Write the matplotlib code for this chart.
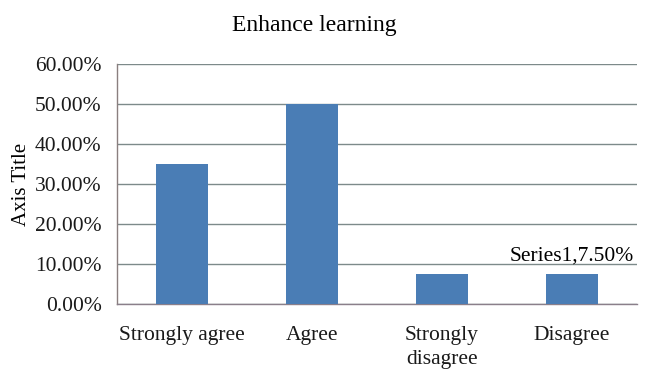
import matplotlib
matplotlib.use("Agg")
import matplotlib.pyplot as plt
from matplotlib.ticker import FuncFormatter

categories = ["Strongly agree", "Agree", "Strongly\ndisagree", "Disagree"]
values = [0.35, 0.50, 0.075, 0.075]
yticks = [0.0, 0.1, 0.2, 0.3, 0.4, 0.5, 0.6]

plt.rcParams["font.family"] = ["Liberation Serif", "DejaVu Serif"]

fig = plt.figure(figsize=(6.5, 3.7), dpi=100)
ax = fig.add_axes([117 / 650, 1 - 304 / 370, 520 / 650, 240 / 370])

x = range(len(categories))
ax.bar(x, values, width=0.4, color="#4a7db5", zorder=3)
ax.set_xlim(-0.5, len(categories) - 0.5)
ax.set_ylim(0, 0.6)
ax.set_yticks(yticks)
ax.yaxis.set_major_formatter(FuncFormatter(lambda v, p: f"{v * 100:.2f}%"))
ax.set_xticks(list(x))
ax.set_xticklabels(categories, fontsize=15.5, linespacing=1.35)
ax.tick_params(axis="both", length=0, labelsize=15.5, colors="#1a1a1a")
ax.tick_params(axis="y", pad=11)
ax.tick_params(axis="x", pad=16)

ax.grid(axis="y", color="#7d8a8a", linewidth=1.0, zorder=0)
for side in ("top", "right"):
    ax.spines[side].set_visible(False)
ax.spines["left"].set_color("#8a7f7f")
ax.spines["bottom"].set_color("#8a7f8a")
ax.spines["left"].set_linewidth(1.0)
ax.spines["bottom"].set_linewidth(1.0)

ax.set_ylabel("Axis Title", fontsize=15, labelpad=3)
fig.text(314 / 650, 1 - 25 / 370, "Enhance learning", fontsize=17,
         ha="center", va="center")

ax.annotate(f"Series1,{values[3] * 100:.2f}%", xy=(3, values[3]),
            xytext=(0, 6), textcoords="offset points",
            ha="center", va="bottom", fontsize=15.5)

fig.savefig("out.png", dpi=100)
